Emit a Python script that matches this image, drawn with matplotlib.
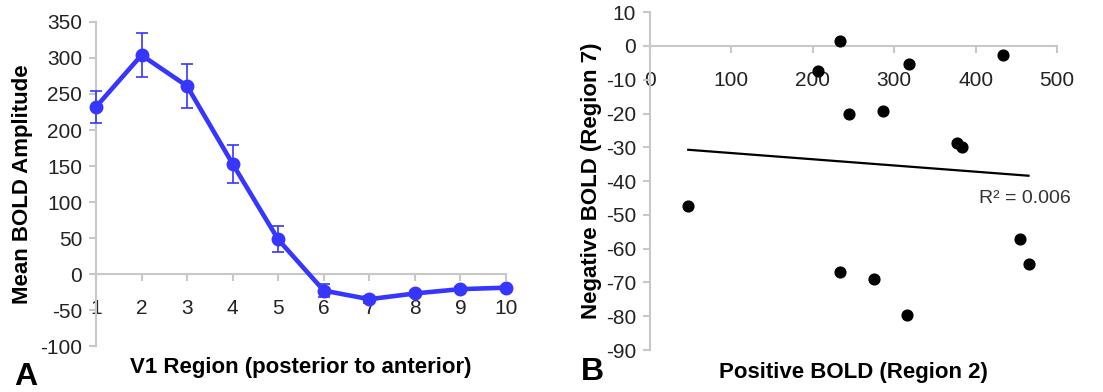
import numpy as np
import matplotlib
matplotlib.use("Agg")
import matplotlib.pyplot as plt

plt.rcParams['font.family'] = ['Liberation Sans', 'DejaVu Sans']
plt.rcParams['axes.unicode_minus'] = False

# panel A: mean BOLD amplitude by V1 region
regions = [1, 2, 3, 4, 5, 6, 7, 8, 9, 10]
amp = [232, 304, 261, 153, 48, -23, -35, -27, -21, -19]
amp_err = [22, 31, 31, 26, 18, 9, 5, 3, 3, 3]

# panel B: positive BOLD (region 2) vs negative BOLD (region 7)
pos_bold = [207, 234, 318, 434, 244, 286, 377, 383, 47, 454, 465, 233, 275, 316]
neg_bold = [-7.4, 1.5, -5.4, -2.7, -20.2, -19.2, -28.8, -29.8, -47.4, -57, -64.6, -67, -69, -79.6]
r2_text = "R² = 0.006"

blue = '#3636ff'
grey = '#c8c8c8'
tick_fs = 15
lab_fs = 16

fig = plt.figure(figsize=(11.03, 3.92), dpi=100)
axA = fig.add_axes([0.087, 0.1173, 0.3717, 0.8266])
axB = fig.add_axes([0.5893, 0.107, 0.369, 0.862])

def style(ax):
    for s in ['top', 'right']:
        ax.spines[s].set_visible(False)
    ax.spines['left'].set_color(grey)
    ax.spines['bottom'].set_color(grey)
    ax.spines['left'].set_linewidth(1.5)
    ax.spines['bottom'].set_linewidth(1.5)
    ax.spines['bottom'].set_position(('data', 0))
    ax.tick_params(axis='y', colors=grey, labelcolor='#222222', length=5, width=1.5,
                   labelsize=tick_fs, pad=5)
    ax.tick_params(axis='x', colors=grey, labelcolor='#222222', length=5, width=1.5,
                   labelsize=tick_fs, pad=13, direction='out')

# ---- A ----
style(axA)
axA.errorbar(regions, amp, yerr=amp_err, color=blue, lw=3.3, marker='o', ms=9,
             ecolor=blue, elinewidth=1.2, capsize=4, capthick=1.2, clip_on=False, zorder=3)
axA.set_xlim(1, 10)
axA.set_ylim(-100, 350)
axA.set_xticks(regions)
axA.set_yticks(np.arange(-100, 351, 50))
axA.set_ylabel('Mean BOLD Amplitude', fontsize=lab_fs, fontweight='bold', labelpad=5)
axA.text(0.5, -0.065, 'V1 Region (posterior to anterior)', transform=axA.transAxes,
         ha='center', va='center', fontsize=lab_fs, fontweight='bold')
fig.text(0.023, 0.037, 'A', fontsize=23, fontweight='bold', ha='center', va='center')

# ---- B ----
style(axB)
axB.scatter(pos_bold, neg_bold, s=60, color='black', zorder=3, clip_on=False)
k, b = np.polyfit(pos_bold, neg_bold, 1)
xs = np.array([min(pos_bold), max(pos_bold)])
axB.plot(xs, k * xs + b, color='black', lw=1.6)
axB.text(404, -45.2, r2_text, fontsize=14, color='#333333', va='center', ha='left')
axB.set_xlim(0, 500)
axB.set_ylim(-90, 10)
axB.set_xticks(np.arange(0, 501, 100))
axB.set_yticks(np.arange(-90, 11, 10))
axB.set_ylabel('Negative BOLD (Region 7)', fontsize=lab_fs, fontweight='bold', labelpad=3)
axB.text(0.5, -0.065, 'Positive BOLD (Region 2)', transform=axB.transAxes,
         ha='center', va='center', fontsize=lab_fs, fontweight='bold')
fig.text(0.537, 0.05, 'B', fontsize=23, fontweight='bold', ha='center', va='center')

fig.savefig('out.png', dpi=100)
